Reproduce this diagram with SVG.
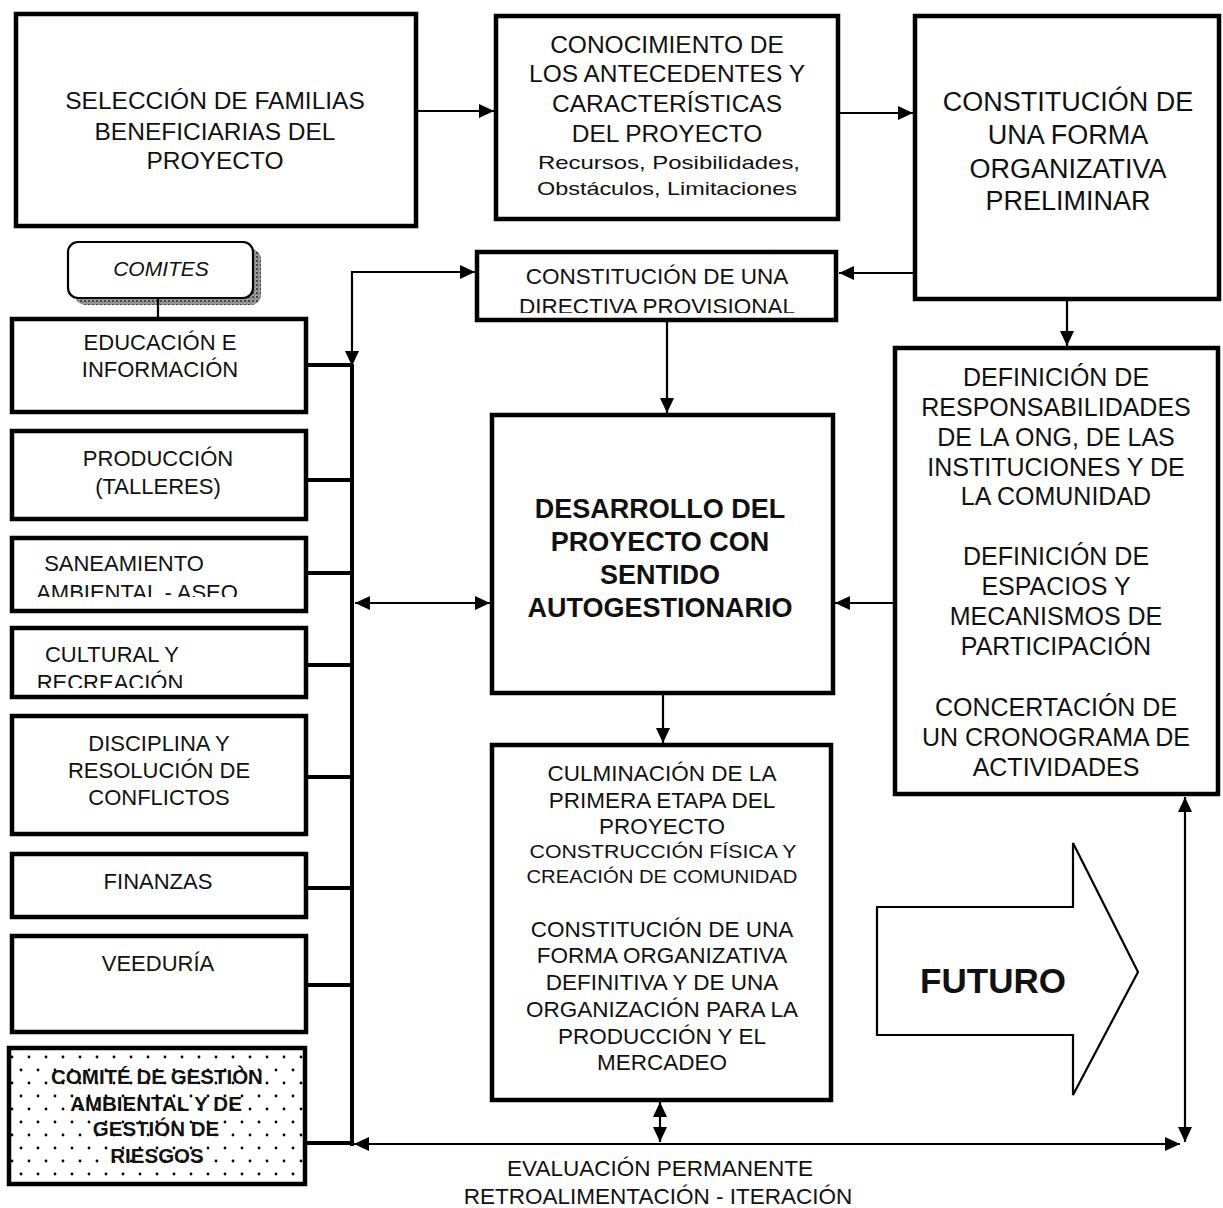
<svg xmlns="http://www.w3.org/2000/svg" width="1223" height="1208" viewBox="0 0 1223 1208">
<style>
  .box { fill: #fff; stroke: #000; stroke-width: 4.5; }
  .t { font-family: "Liberation Sans", Arial, sans-serif; fill: #111; text-anchor: middle; }
  .f24 { font-size: 24.5px; }
  .f27 { font-size: 27px; }
  .f22 { font-size: 22.5px; }
  .f25 { font-size: 25px; }
  .fs { font-size: 22px; }
  .b { font-weight: bold; }
  .ln { fill: none; stroke: #000; stroke-width: 2.2; }
  .bus { fill: none; stroke: #000; stroke-width: 4; }
</style>
<defs>
  <marker id="ah" markerUnits="userSpaceOnUse" markerWidth="16" markerHeight="14" refX="15" refY="7" orient="auto-start-reverse">
    <path d="M0,0 L15,7 L0,14 z" fill="#000"/>
  </marker>
  <pattern id="dots" patternUnits="userSpaceOnUse" width="34" height="26">
    <circle cx="4" cy="4" r="1.4" fill="#000"/>
    <circle cx="21" cy="4" r="1.4" fill="#000"/>
    <circle cx="12" cy="17" r="1.4" fill="#000"/>
    <circle cx="29" cy="17" r="1.4" fill="#000"/>
  </pattern>
  <pattern id="shade" patternUnits="userSpaceOnUse" width="4" height="4">
    <rect width="4" height="4" fill="#9a9a9a"/>
    <rect width="2" height="2" fill="#444"/>
    <rect x="2" y="2" width="1" height="1" fill="#666"/>
  </pattern>
  <clipPath id="clipDir"><rect x="470" y="250" width="370" height="63"/></clipPath>
  <clipPath id="clipSan"><rect x="10" y="535" width="300" height="62"/></clipPath>
  <clipPath id="clipCul"><rect x="10" y="625" width="300" height="63"/></clipPath>
</defs>

<g id="n-seleccion">
  <rect class="box" x="16" y="14" width="400" height="212"/>
  <text class="t f24" x="215" y="109">SELECCIÓN DE FAMILIAS</text>
  <text class="t f24" x="215" y="140">BENEFICIARIAS DEL</text>
  <text class="t f24" x="215" y="169">PROYECTO</text>
</g>

<g id="n-conocimiento">
  <rect class="box" x="496" y="16" width="342" height="203"/>
  <text class="t f24" x="667" y="53">CONOCIMIENTO DE</text>
  <text class="t f24" x="667" y="82">LOS ANTECEDENTES Y</text>
  <text class="t f24" x="667" y="112">CARACTERÍSTICAS</text>
  <text class="t f24" x="667" y="142">DEL PROYECTO</text>
  <text class="t" x="669" y="169" font-size="19" textLength="262" lengthAdjust="spacingAndGlyphs">Recursos, Posibilidades,</text>
  <text class="t" x="667" y="195" font-size="19" textLength="260" lengthAdjust="spacingAndGlyphs">Obstáculos, Limitaciones</text>
</g>

<g id="n-forma-preliminar">
  <rect class="box" x="915" y="16" width="304" height="283"/>
  <text class="t f27" x="1068" y="111">CONSTITUCIÓN DE</text>
  <text class="t f27" x="1068" y="144">UNA FORMA</text>
  <text class="t f27" x="1068" y="178">ORGANIZATIVA</text>
  <text class="t f27" x="1068" y="210">PRELIMINAR</text>
</g>

<g id="n-directiva">
  <rect class="box" x="477" y="252" width="359" height="68"/>
  <g clip-path="url(#clipDir)">
    <text class="t f22" x="657" y="284">CONSTITUCIÓN DE UNA</text>
    <text class="t f22" x="657" y="314">DIRECTIVA PROVISIONAL</text>
  </g>
</g>

<g id="n-desarrollo">
  <rect class="box" x="492" y="415" width="341" height="278"/>
  <text class="t f27 b" x="660" y="518">DESARROLLO DEL</text>
  <text class="t f27 b" x="660" y="551">PROYECTO CON</text>
  <text class="t f27 b" x="660" y="584">SENTIDO</text>
  <text class="t f27 b" x="660" y="617">AUTOGESTIONARIO</text>
</g>

<g id="n-definicion">
  <rect class="box" x="895" y="348" width="323" height="446"/>
  <text class="t f25" x="1056" y="386">DEFINICIÓN DE</text>
  <text class="t f25" x="1056" y="416">RESPONSABILIDADES</text>
  <text class="t f25" x="1056" y="446">DE LA ONG, DE LAS</text>
  <text class="t f25" x="1056" y="476">INSTITUCIONES Y DE</text>
  <text class="t f25" x="1056" y="505">LA COMUNIDAD</text>
  <text class="t f25" x="1056" y="565">DEFINICIÓN DE</text>
  <text class="t f25" x="1056" y="595">ESPACIOS Y</text>
  <text class="t f25" x="1056" y="625">MECANISMOS DE</text>
  <text class="t f25" x="1056" y="655">PARTICIPACIÓN</text>
  <text class="t f25" x="1056" y="716">CONCERTACIÓN DE</text>
  <text class="t f25" x="1056" y="746">UN CRONOGRAMA DE</text>
  <text class="t f25" x="1056" y="776">ACTIVIDADES</text>
</g>

<g id="n-culminacion">
  <rect class="box" x="492" y="745" width="339" height="355"/>
  <text class="t f22" x="662" y="781">CULMINACIÓN DE LA</text>
  <text class="t f22" x="662" y="808">PRIMERA ETAPA DEL</text>
  <text class="t f22" x="662" y="834">PROYECTO</text>
  <text class="t" x="663" y="858" font-size="18.5" textLength="267" lengthAdjust="spacingAndGlyphs">CONSTRUCCIÓN FÍSICA Y</text>
  <text class="t" x="662" y="883" font-size="18.5" textLength="271" lengthAdjust="spacingAndGlyphs">CREACIÓN DE COMUNIDAD</text>
  <text class="t f22" x="662" y="937">CONSTITUCIÓN DE UNA</text>
  <text class="t f22" x="662" y="963">FORMA ORGANIZATIVA</text>
  <text class="t f22" x="662" y="990">DEFINITIVA Y DE UNA</text>
  <text class="t f22" x="662" y="1017">ORGANIZACIÓN PARA LA</text>
  <text class="t f22" x="662" y="1044">PRODUCCIÓN Y EL</text>
  <text class="t f22" x="662" y="1070">MERCADEO</text>
</g>

<g id="n-comites">
  <rect x="75" y="249" width="186" height="56" rx="10" fill="url(#shade)"/>
  <rect x="68" y="242" width="185" height="56" rx="10" fill="#fff" stroke="#000" stroke-width="2.2"/>
  <text class="t" x="161" y="276" font-size="21" font-style="italic">COMITES</text>
</g>

<g id="n-educacion">
  <rect class="box" x="12" y="319" width="294" height="93"/>
  <text class="t fs" x="160" y="350">EDUCACIÓN E</text>
  <text class="t fs" x="160" y="377">INFORMACIÓN</text>
</g>

<g id="n-produccion">
  <rect class="box" x="12" y="431" width="294" height="88"/>
  <text class="t fs" x="158" y="466">PRODUCCIÓN</text>
  <text class="t fs" x="158" y="494">(TALLERES)</text>
</g>

<g id="n-saneamiento">
  <rect class="box" x="12" y="538" width="294" height="73"/>
  <g clip-path="url(#clipSan)">
    <text class="t fs" x="124" y="571">SANEAMIENTO</text>
    <text class="t fs" x="137" y="600">AMBIENTAL - ASEO</text>
  </g>
</g>

<g id="n-cultural">
  <rect class="box" x="12" y="628" width="294" height="69"/>
  <g clip-path="url(#clipCul)">
    <text class="t fs" x="112" y="662">CULTURAL Y</text>
    <text class="t fs" x="110" y="690">RECREACIÓN</text>
  </g>
</g>

<g id="n-disciplina">
  <rect class="box" x="12" y="716" width="294" height="118"/>
  <text class="t fs" x="159" y="751">DISCIPLINA Y</text>
  <text class="t fs" x="159" y="778">RESOLUCIÓN DE</text>
  <text class="t fs" x="159" y="805">CONFLICTOS</text>
</g>

<g id="n-finanzas">
  <rect class="box" x="12" y="854" width="294" height="63"/>
  <text class="t fs" x="158" y="889">FINANZAS</text>
</g>

<g id="n-veeduria">
  <rect class="box" x="12" y="936" width="294" height="96"/>
  <text class="t fs" x="158" y="971">VEEDURÍA</text>
</g>

<g id="n-gestion-ambiental">
  <rect x="9" y="1048" width="296" height="136" fill="url(#dots)" stroke="#000" stroke-width="4.5"/>
  <text class="t b" x="157" y="1084" font-size="20.5">COMITÉ DE GESTIÒN</text>
  <text class="t b" x="156" y="1111" font-size="20.5">AMBIENTAL Y DE</text>
  <text class="t b" x="156" y="1136" font-size="20.5">GESTIÓN DE</text>
  <text class="t b" x="157" y="1163" font-size="20.5">RIESGOS</text>
</g>

<g id="n-futuro">
  <polygon points="877,907 1073,907 1073,843 1138,972 1073,1095 1073,1035 877,1035" fill="#fff" stroke="#000" stroke-width="2.2"/>
  <text class="t b" x="993" y="993" font-size="35">FUTURO</text>
</g>

<g id="connectors">
  <line class="ln" x1="418" y1="111" x2="494" y2="111" marker-end="url(#ah)"/>
  <line class="ln" x1="840" y1="113" x2="913" y2="113" marker-end="url(#ah)"/>
  <line class="ln" x1="913" y1="273" x2="839" y2="273" marker-end="url(#ah)"/>
  <path class="ln" d="M352,366 L352,272 L475,272" marker-start="url(#ah)" marker-end="url(#ah)"/>
  <line class="ln" x1="667" y1="322" x2="667" y2="413" marker-end="url(#ah)"/>
  <line class="ln" x1="1067" y1="301" x2="1067" y2="346" marker-end="url(#ah)"/>
  <line class="ln" x1="355" y1="603" x2="490" y2="603" marker-start="url(#ah)" marker-end="url(#ah)"/>
  <line class="ln" x1="893" y1="603" x2="835" y2="603" marker-end="url(#ah)"/>
  <line class="ln" x1="663" y1="695" x2="663" y2="743" marker-end="url(#ah)"/>
  <line class="ln" x1="660" y1="1102" x2="660" y2="1142" marker-start="url(#ah)" marker-end="url(#ah)"/>
  <line class="ln" x1="354" y1="1144" x2="1180" y2="1144" marker-start="url(#ah)" marker-end="url(#ah)"/>
  <line class="ln" x1="1185" y1="797" x2="1185" y2="1142" marker-start="url(#ah)" marker-end="url(#ah)"/>
  <line class="ln" x1="158" y1="298" x2="158" y2="317"/>
  <line class="bus" x1="352" y1="364" x2="352" y2="1146"/>
  <line class="bus" x1="306" y1="365" x2="352" y2="365"/>
  <line class="bus" x1="306" y1="480" x2="352" y2="480"/>
  <line class="bus" x1="306" y1="573" x2="352" y2="573"/>
  <line class="bus" x1="306" y1="665" x2="352" y2="665"/>
  <line class="bus" x1="306" y1="777" x2="352" y2="777"/>
  <line class="bus" x1="306" y1="888" x2="352" y2="888"/>
  <line class="bus" x1="306" y1="985" x2="352" y2="985"/>
  <line class="bus" x1="305" y1="1143" x2="352" y2="1143"/>
</g>

<g id="label-evaluacion">
  <text class="t f22" x="660" y="1176">EVALUACIÓN PERMANENTE</text>
  <text class="t f22" x="658" y="1204">RETROALIMENTACIÓN - ITERACIÓN</text>
</g>
</svg>
